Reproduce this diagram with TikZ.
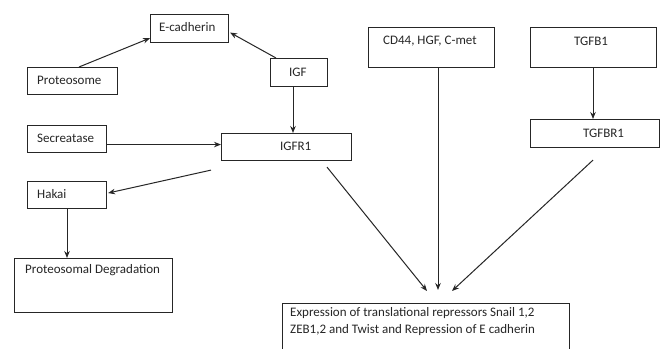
\documentclass[tikz,border=0pt]{standalone}
\usepackage{fontspec}
\setmainfont{Carlito}
\usetikzlibrary{calc,arrows.meta}
\definecolor{ink}{HTML}{262626}
\begin{document}
\begin{tikzpicture}[x=1pt,y=-1pt,
  box/.style={draw=ink,line width=1.1pt,rectangle,inner sep=0pt,anchor=north west},
  txt/.style={text=ink,inner sep=0pt,anchor=west,font=\fontsize{13}{17}\selectfont},
  conn/.style={draw=ink,line width=1pt,-{Stealth[length=7pt,width=5.5pt]}}]
\useasboundingbox[fill=white] (0,0) rectangle (661,348);
% boxes
\node[box,minimum width=78,minimum height=28] (ecad) at (150,14) {};
\node[box,minimum width=90,minimum height=27] (prot) at (27,67) {};
\node[box,minimum width=57,minimum height=28] (igf) at (270,58) {};
\node[box,minimum width=79,minimum height=27] (secr) at (27,125) {};
\node[box,minimum width=130,minimum height=27] (igfr) at (221,133) {};
\node[box,minimum width=79,minimum height=27] (hakai) at (27,181) {};
\node[box,minimum width=158,minimum height=54] (pdeg) at (14,258) {};
\node[box,minimum width=126,minimum height=40] (cd44) at (368,27) {};
\node[box,minimum width=126,minimum height=40] (tgfb) at (530,27) {};
\node[box,minimum width=129,minimum height=28] (tgfbr) at (530,119) {};
\node[box,minimum width=287,minimum height=60] (expr) at (282,303) {};
% texts
\node[txt] (tecad) at (159,27) {E-cadherin};
\node[txt] (tprot) at (37,80.5) {Proteosome};
\node[txt] (tigf) at (289,72) {IGF};
\node[txt] (tsecr) at (37,138.5) {Secreatase};
\node[txt] (tigfr) at (280,146.5) {IGFR1};
\node[txt] (thakai) at (37,194.5) {Hakai};
\node[txt] (tpdeg) at (25,270) {Proteosomal Degradation};
\node[txt] (tcd44) at (383,41) {CD44, HGF, C-met};
\node[txt] (ttgfb) at (574,41) {TGFB1};
\node[txt] (ttgfbr) at (583,133) {TGFBR1};
\node[txt,anchor=north west,align=left] (texpr) at (290,307) {Expression of translational repressors Snail 1,2\\ZEB1,2 and Twist and Repression of E cadherin};
% connectors
\draw[conn] ($(prot.north west)+(52,0)$) -- ($(ecad.south west)+(0,-5)$);
\draw[conn] ($(igf.north west)+(6,0)$) -- ($(ecad.east)+(1,4)$);
\draw[conn] ($(igf.south west)+(23,0)$) -- ($(igfr.north west)+(72,0)$);
\draw[conn] ($(secr.east)+(0,5.5)$) -- ($(igfr.west)+(0,-2.5)$);
\draw[conn] ($(igfr.south west)+(-10,9)$) -- ($(hakai.east)+(1,-2)$);
\draw[conn] ($(hakai.south west)+(40,0)$) -- ($(pdeg.north west)+(53,0)$);
\draw[conn] ($(igfr.south west)+(106,6)$) -- ($(expr.north west)+(145,-12)$);
\draw[conn] ($(cd44.south west)+(70,0)$) -- ($(expr.north west)+(156,-13)$);
\draw[conn] ($(tgfb.south west)+(63,0)$) -- ($(tgfbr.north west)+(63,0)$);
\draw[conn] ($(tgfbr.south west)+(63,12)$) -- ($(expr.north west)+(170,-12)$);
\end{tikzpicture}
\end{document}
